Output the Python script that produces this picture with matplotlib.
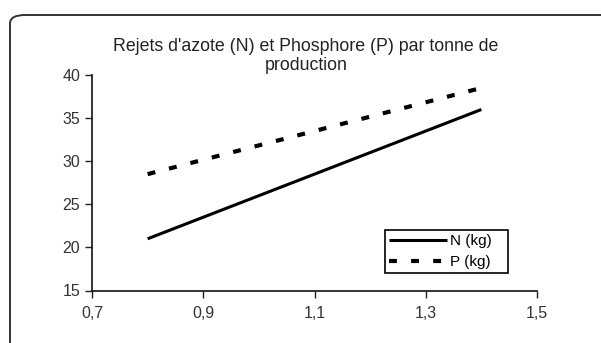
import matplotlib.pyplot as plt
from matplotlib.patches import FancyBboxPatch
from matplotlib.ticker import FuncFormatter

plt.rcParams['font.family'] = ['Liberation Sans', 'DejaVu Sans']

production = [0.8, 1.4]
azote_n = [21, 36]
phosphore_p = [28.5, 38.5]
x_ticks = [0.7, 0.9, 1.1, 1.3, 1.5]
y_ticks = [15, 20, 25, 30, 35, 40]

fig = plt.figure(figsize=(6.01, 3.43), dpi=100)

# outer chart frame, only the top-left corner is visible
frame = FancyBboxPatch((10 / 601, -0.2), 1.2, 1 - 15 / 343 + 0.2,
                       boxstyle="round,pad=0,rounding_size=0.025",
                       transform=fig.transFigure, facecolor='none',
                       edgecolor='#333333', linewidth=1.4, clip_on=False, zorder=-1)
fig.patches.append(frame)

ax = fig.add_axes([92 / 601, 1 - 290.5 / 343, 445 / 601, 215.5 / 343])
ax.patch.set_alpha(0)

ax.plot(production, azote_n, color='black', linewidth=2.2, label='N (kg)',
        solid_capstyle='butt')
ax.plot(production, phosphore_p, color='black', linewidth=3, dashes=(1.9, 3.4),
        label='P (kg)')

ax.set_xlim(0.7, 1.5)
ax.set_ylim(15, 40)
ax.set_xticks(x_ticks)
ax.set_yticks(y_ticks)
ax.xaxis.set_major_formatter(FuncFormatter(lambda v, p: f"{v:.1f}".replace('.', ',')))
ax.tick_params(labelsize=11.5, length=5, width=1, colors='#222222', labelcolor='#333333')
ax.tick_params(axis='x', pad=6)
ax.spines['top'].set_visible(False)
ax.spines['right'].set_visible(False)
for s in ['left', 'bottom']:
    ax.spines[s].set_linewidth(1.2)
    ax.spines[s].set_color('#111111')

fig.text(306 / 601, 1 - 56 / 343, "Rejets d'azote (N) et Phosphore (P) par tonne de\nproduction",
         ha='center', va='center', fontsize=12.8, color='#222222', linespacing=1.2)

leg = ax.legend(loc='lower left', bbox_to_anchor=(293 / 445, 17.5 / 215.5, 123 / 445, 53 / 215.5),
                mode='expand', fancybox=False, edgecolor='black', fontsize=11,
                handlelength=3.8, borderpad=0.25, labelspacing=0.45, borderaxespad=0,
                handletextpad=0.2, framealpha=1)
leg.get_frame().set_linewidth(1.2)

fig.savefig('out.png', dpi=100)
